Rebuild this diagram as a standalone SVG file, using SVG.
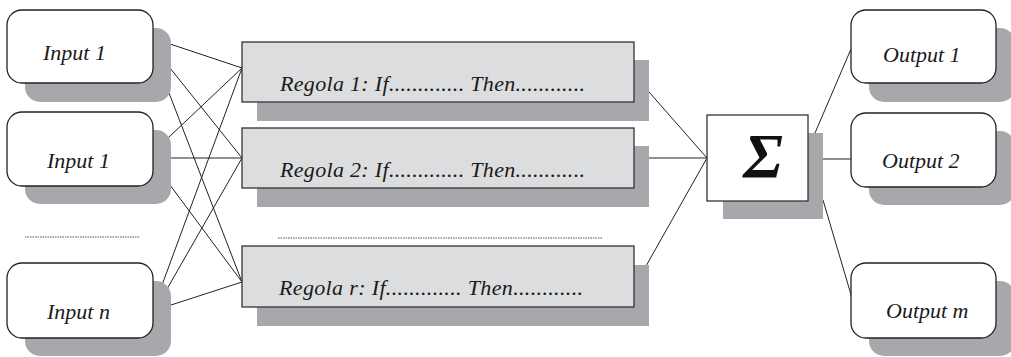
<svg xmlns="http://www.w3.org/2000/svg" width="1011" height="357" viewBox="0 0 1011 357">
<style>
.sh{fill:#a7a8ab;stroke:none}
.rb{fill:#ffffff;stroke:#222;stroke-width:1.3}
.rule{fill:#dcdddf;stroke:#333;stroke-width:1.3}
.sig{fill:#ffffff;stroke:#333;stroke-width:1.3}
.lbl{font-family:"Liberation Serif","Times New Roman",Times,serif;font-style:italic;font-size:22px;fill:#1a1a1a}
.sigma{font-family:"Liberation Serif","Times New Roman",Times,serif;font-style:italic;font-weight:bold;font-size:64px;fill:#111}
.con line{stroke:#222;stroke-width:1;fill:none}
.dots{stroke:#555;stroke-width:1.2;stroke-dasharray:1.5,1}
</style>
<rect width="1011" height="357" fill="#ffffff"/>
<g id="connectors" class="con">
<line x1="170" y1="44" x2="242" y2="68"/>
<line x1="170" y1="68" x2="242" y2="158"/>
<line x1="169" y1="93" x2="242" y2="282"/>
<line x1="168" y1="138" x2="242" y2="68"/>
<line x1="170" y1="158" x2="242" y2="158"/>
<line x1="170" y1="185" x2="242" y2="282"/>
<line x1="162" y1="285" x2="242" y2="68"/>
<line x1="167" y1="289" x2="242" y2="158"/>
<line x1="171" y1="305" x2="242" y2="282"/>
<line x1="649" y1="92" x2="707" y2="158"/>
<line x1="649" y1="158" x2="707" y2="158"/>
<line x1="646" y1="266" x2="707" y2="158"/>
<line x1="815" y1="133" x2="851" y2="49"/>
<line x1="823" y1="159" x2="851" y2="159"/>
<line x1="823" y1="200" x2="852" y2="298"/>
</g>
<g id="input1"><rect class="sh" x="25" y="28" width="146" height="74" rx="15"/><rect class="rb" x="7" y="10" width="146" height="73" rx="15"/><text class="lbl" x="43" y="60">Input 1</text></g>
<g id="input2"><rect class="sh" x="25" y="130" width="146" height="74" rx="15"/><rect class="rb" x="7" y="112" width="146" height="74" rx="15"/><text class="lbl" x="47" y="168">Input 1</text></g>
<g id="inputn"><rect class="sh" x="25" y="281" width="146" height="75" rx="15"/><rect class="rb" x="7" y="263" width="146" height="75" rx="15"/><text class="lbl" x="47" y="319">Input n</text></g>
<line id="dots-left" class="dots" x1="25" y1="237" x2="140" y2="237"/>
<g id="rule1"><rect class="sh" x="257" y="60" width="392" height="61"/><rect class="rule" x="242" y="42" width="392" height="60"/><text class="lbl" x="280" y="91" textLength="305" lengthAdjust="spacing">Regola 1: If............. Then............</text></g>
<g id="rule2"><rect class="sh" x="257" y="146" width="392" height="61"/><rect class="rule" x="242" y="128" width="392" height="60"/><text class="lbl" x="280" y="177" textLength="305" lengthAdjust="spacing">Regola 2: If............. Then............</text></g>
<line id="dots-mid" class="dots" x1="278" y1="238" x2="603" y2="238"/>
<g id="ruler"><rect class="sh" x="257" y="265" width="392" height="61"/><rect class="rule" x="242" y="246" width="392" height="61"/><text class="lbl" x="279" y="295" textLength="304" lengthAdjust="spacing">Regola r: If............. Then............</text></g>
<g id="sum"><rect class="sh" x="723" y="133" width="100" height="86"/><rect class="sig" x="707" y="115" width="101" height="86"/><text class="sigma" x="763" y="178" text-anchor="middle">Σ</text></g>
<g id="output1"><rect class="sh" x="869" y="28" width="146" height="74" rx="15"/><rect class="rb" x="851" y="10" width="145" height="73" rx="15"/><text class="lbl" x="883" y="62">Output 1</text></g>
<g id="output2"><rect class="sh" x="869" y="131" width="146" height="74" rx="15"/><rect class="rb" x="851" y="113" width="145" height="74" rx="15"/><text class="lbl" x="882" y="168">Output 2</text></g>
<g id="outputm"><rect class="sh" x="869" y="281" width="146" height="75" rx="15"/><rect class="rb" x="851" y="263" width="145" height="75" rx="15"/><text class="lbl" x="886" y="318">Output m</text></g>
</svg>
